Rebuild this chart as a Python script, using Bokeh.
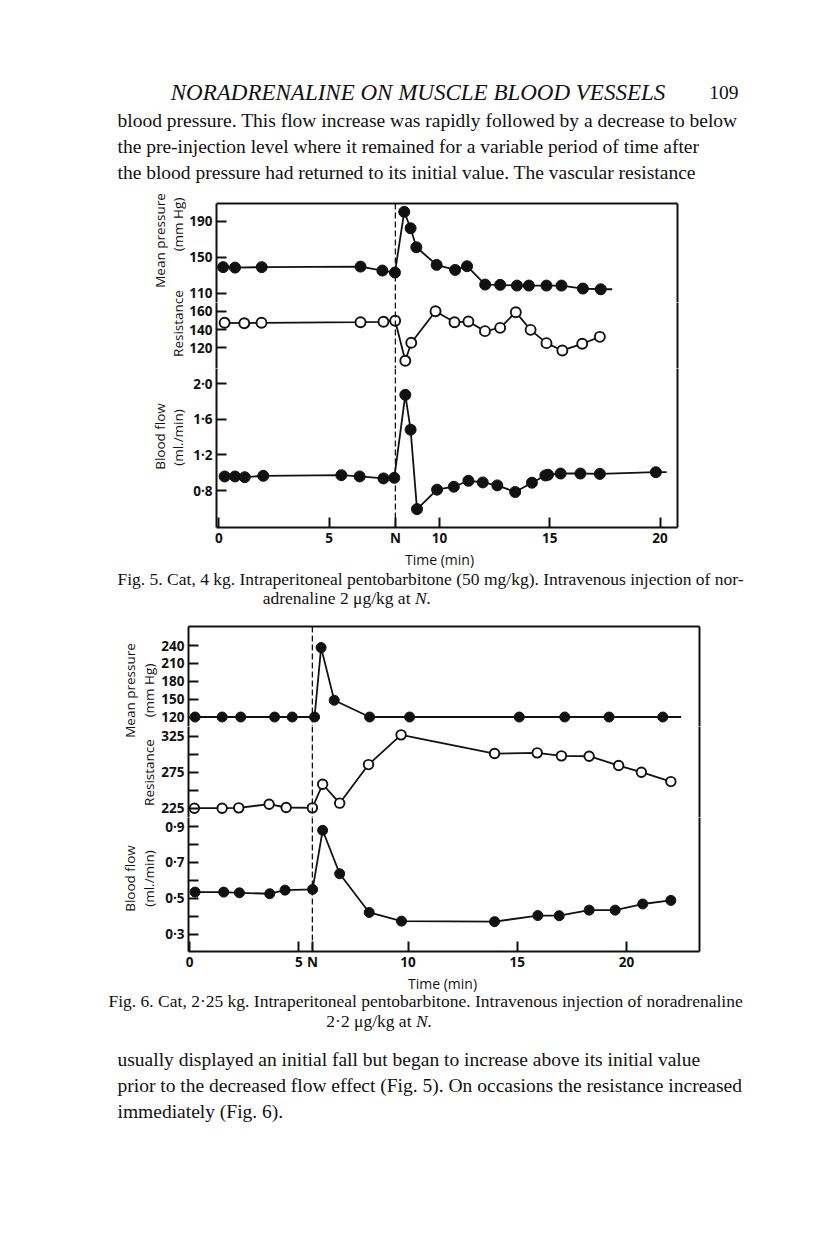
import math
from bokeh.plotting import figure
from bokeh.layouts import column, row
from bokeh.models import Range1d, LinearAxis, FixedTicker, CustomJSTickFormatter, Span
from bokeh.embed import file_html
from bokeh.resources import INLINE
from bokeh.core.properties import value

# ---------------- data: Fig. 5 ----------------
fig5_injection_min = 8.0
fig5_time_ticks = [0, 5, 10, 15, 20]
fig5_pressure_ticks = [110, 150, 190]
fig5_resistance_ticks = [120, 140, 160]
fig5_flow_ticks = [0.8, 1.2, 1.6, 2.0]

fig5_pressure_time = [0.19, 0.73, 1.94, 6.42, 7.41, 7.98, 8.40, 8.69, 8.95, 9.87, 10.71,
                      11.25, 12.07, 12.75, 13.51, 14.05, 14.85, 15.53, 16.50, 17.31]
fig5_pressure = [139, 138.5, 139, 139.6, 135.2, 133, 200.4, 182.2, 161.1, 141.5, 135.9,
                 140, 119.6, 119.3, 118.5, 118.5, 118.5, 118.5, 115.2, 114.4]
fig5_pressure_trace_end = 17.83

fig5_resistance_time = [0.26, 1.15, 1.93, 6.42, 7.46, 7.99, 8.45, 8.72, 9.82, 10.68, 11.31,
                        12.06, 12.75, 13.46, 14.13, 14.85, 15.57, 16.47, 17.27]
fig5_resistance = [147.3, 146.9, 147.3, 148, 148.4, 149.5, 105.8, 125.5, 160, 148, 148.7,
                   138.2, 141.8, 158.9, 139.6, 125.1, 117.1, 124.4, 132]

fig5_flow_time = [0.26, 0.73, 1.17, 2.01, 5.55, 6.38, 7.46, 7.95, 8.45, 8.69, 8.98, 9.89,
                  10.65, 11.31, 11.96, 12.62, 13.43, 14.19, 14.80, 14.92, 15.49, 16.39, 17.27, 19.81]
fig5_flow = [0.959, 0.959, 0.951, 0.966, 0.973, 0.959, 0.937, 0.944, 1.874, 1.483, 0.593, 0.811,
             0.844, 0.911, 0.892, 0.859, 0.785, 0.889, 0.970, 0.978, 0.992, 0.992, 0.988, 1.007]
fig5_flow_trace_end = 20.3

# axis limits (what the frame shows)
fig5_x_limits = (-0.11, 20.79)
fig5_pressure_limits = (99.7, 209.7)
fig5_resistance_limits = (97.4, 169.5)
fig5_flow_limits = (0.387, 2.169)

# ---------------- data: Fig. 6 ----------------
fig6_injection_min = 5.62
fig6_time_ticks = [0, 5, 10, 15, 20]
fig6_pressure_ticks = [120, 150, 180, 210, 240]
fig6_resistance_ticks = [225, 275, 325]
fig6_resistance_minor = [250, 300]
fig6_flow_ticks = [0.3, 0.5, 0.7, 0.9]
fig6_flow_minor = [0.4, 0.6, 0.8]

fig6_pressure_time = [0.25, 1.49, 2.34, 3.89, 4.70, 5.72, 6.02, 6.62, 8.24, 10.07, 15.09,
                      17.17, 19.20, 21.66]
fig6_pressure = [120, 120, 120, 120, 120, 120, 236.5, 148.1, 120, 120, 120, 120, 120, 120]
fig6_pressure_trace_end = 22.5

fig6_resistance_time = [0.22, 1.49, 2.25, 3.64, 4.42, 5.62, 6.09, 6.87, 8.19, 9.68, 13.96,
                        15.91, 17.02, 18.29, 19.64, 20.68, 22.03]
fig6_resistance = [225, 225, 225.5, 230.6, 226, 225.5, 258.3, 232, 285.6, 326.9, 300.9,
                   301.9, 297.7, 297.2, 284.3, 275, 262]

fig6_flow_time = [0.25, 1.56, 2.28, 3.67, 4.37, 5.63, 6.09, 6.87, 8.22, 9.70, 13.96,
                  15.94, 16.92, 18.29, 19.48, 20.74, 22.03]
fig6_flow = [0.535, 0.535, 0.531, 0.526, 0.546, 0.550, 0.878, 0.637, 0.422, 0.374, 0.371,
             0.405, 0.404, 0.435, 0.435, 0.469, 0.489]

fig6_x_limits = (-0.05, 23.34)
fig6_pressure_limits = (104.1, 271.9)
fig6_resistance_limits = (212.1, 338.5)
fig6_flow_limits = (0.2055, 0.949)

# ---------------- texts ----------------
running_head = "NORADRENALINE ON MUSCLE BLOOD VESSELS"
page_number = "109"
para1 = ["blood pressure. This flow increase was rapidly followed by a decrease to below",
         "the pre-injection level where it remained for a variable period of time after",
         "the blood pressure had returned to its initial value. The vascular resistance"]
cap5_line1 = "Fig. 5.  Cat, 4 kg.  Intraperitoneal pentobarbitone (50 mg/kg).  Intravenous injection of nor-"
cap5_line2 = "adrenaline 2 \u03bcg/kg at"
cap6_line1 = "Fig. 6.  Cat, 2\u00b725 kg.  Intraperitoneal pentobarbitone.  Intravenous injection of noradrenaline"
cap6_line2 = "2\u00b72 \u03bcg/kg at"
para2 = ["usually displayed an initial fall but began to increase above its initial value",
         "prior to the decreased flow effect (Fig. 5).  On occasions the resistance increased",
         "immediately (Fig. 6)."]
time_label = "Time (min)"
injection_label = "N"

# ---------------- styling ----------------
INK = "#111111"
SERIF = "Liberation Serif"
SANS = "Open Sans"
LW = 2
W = 808
BODY = "19.5px"
CAP = "17.5px"
AXT = "13.5px"


def page_fig(x0, y0, x1, y1):
    p = figure(width=x1 - x0, height=y1 - y0, x_range=Range1d(x0, x1), y_range=Range1d(y1, y0),
               x_axis_type=None, y_axis_type=None, output_backend="svg", toolbar_location=None,
               min_border=0, title=None)
    p.outline_line_color = None
    return p


def put(p, x, y, s, size, font=SERIF, style="normal", align="left", angle=0.0, baseline="middle"):
    p.text(x=[x], y=[y], text=[s], text_font=value(font), text_font_size=size,
           text_font_style=style, text_align=align, text_baseline=baseline,
           text_color=INK, angle=angle)


def panel(xlim, ylim, width, height, left, right, top, bottom):
    p = figure(width=width, height=height, x_range=Range1d(*xlim), y_range=Range1d(*ylim),
               x_axis_type=None, y_axis_type=None, output_backend="svg", toolbar_location=None,
               min_border_left=left, min_border_right=right, min_border_top=top,
               min_border_bottom=bottom, title=None)
    p.outline_line_color = None
    return p


def frame_line(p, side):
    ax = LinearAxis(ticker=FixedTicker(ticks=[]), axis_line_width=LW, axis_line_color=INK,
                    major_tick_in=0, major_tick_out=0, minor_tick_in=0, minor_tick_out=0,
                    major_label_standoff=0, major_label_text_font_size="0px")
    p.add_layout(ax, side)


def value_axis(p, side, ticks, minor=None, decimal=False, standoff=4):
    ax = LinearAxis(ticker=FixedTicker(ticks=ticks, minor_ticks=minor or []),
                    axis_line_width=LW, axis_line_color=INK,
                    major_tick_in=10, major_tick_out=0, major_tick_line_width=LW,
                    major_tick_line_color=INK,
                    minor_tick_in=10 if minor else 0, minor_tick_out=0,
                    minor_tick_line_width=LW, minor_tick_line_color=INK,
                    major_label_standoff=standoff, major_label_text_font=SANS,
                    major_label_text_font_size="13.5px", major_label_text_font_style="bold",
                    major_label_text_color=INK)
    if decimal:
        ax.formatter = CustomJSTickFormatter(code="return tick.toFixed(1).replace('.', '\u00b7');")
    p.add_layout(ax, side)
    return ax


def time_axis(p, ticks, injection):
    ax = value_axis(p, "below", sorted(ticks + [injection]), standoff=1)
    ax.major_label_overrides = {injection: injection_label}
    return ax


def series(p, t, v, end, filled, size):
    lx = list(t) + ([end] if end is not None else [])
    ly = list(v) + ([v[-1]] if end is not None else [])
    p.line(lx, ly, line_color=INK, line_width=1.8)
    if filled:
        p.scatter(t, v, marker="circle", size=size, fill_color=INK, line_color=INK, line_width=1)
    else:
        p.scatter(t, v, marker="circle", size=size, fill_color="white", line_color=INK, line_width=1.9)


def side_label(p, x, y, s):
    put(p, x, y, s, AXT, font=SANS, align="center", angle=math.pi / 2)


# ---------------- top text ----------------
top = page_fig(0, 0, W, 186)
put(top, 417.5, 92, running_head, "23px", style="italic", align="center")
put(top, 738, 92, page_number, BODY, align="right")
for i, s in enumerate(para1):
    put(top, 117, 120 + 25.9 * i, s, BODY)

# ---------------- Fig. 5 ----------------
lab5 = page_fig(0, 186, 186, 549)
side_label(lab5, 159.5, 240, "Mean pressure")
side_label(lab5, 177.5, 224, "(mm Hg)")
side_label(lab5, 177.5, 323, "Resistance")
side_label(lab5, 159.5, 436, "Blood flow")
side_label(lab5, 177.5, 437, "(ml./min)")

f5w, f5l, f5r = W - 186, 30, 131
f5a = panel(fig5_x_limits, fig5_pressure_limits, f5w, 116, f5l, f5r, 17, 0)
f5b = panel(fig5_x_limits, fig5_resistance_limits, f5w, 66, f5l, f5r, 0, 0)
f5c = panel(fig5_x_limits, fig5_flow_limits, f5w, 181, f5l, f5r, 0, 20)

value_axis(f5a, "left", fig5_pressure_ticks)
value_axis(f5b, "left", fig5_resistance_ticks)
value_axis(f5c, "left", fig5_flow_ticks, decimal=True)
time_axis(f5c, fig5_time_ticks, fig5_injection_min)
frame_line(f5a, "above")
for p in (f5a, f5b, f5c):
    frame_line(p, "right")
    p.add_layout(Span(location=fig5_injection_min, dimension="height", line_color=INK,
                      line_width=1.3, line_dash="6 3"))

series(f5a, fig5_pressure_time, fig5_pressure, fig5_pressure_trace_end, True, 11)
series(f5b, fig5_resistance_time, fig5_resistance, None, False, 10)
series(f5c, fig5_flow_time, fig5_flow, fig5_flow_trace_end, True, 11)

fig5 = row(lab5, column(f5a, f5b, f5c, spacing=0), spacing=0)

# ---------------- caption 5 ----------------
mid = page_fig(0, 549, W, 612)
put(mid, 439, 549.5, time_label, "14px", font=SANS, align="center", baseline="top")
put(mid, 117, 578, cap5_line1, CAP)
put(mid, 410, 597, cap5_line2, CAP, align="right")
put(mid, 414.5, 597, "N.", CAP, style="italic")

# ---------------- Fig. 6 ----------------
lab6 = page_fig(0, 612, 158, 973)
side_label(lab6, 129, 690, "Mean pressure")
side_label(lab6, 148, 690, "(mm Hg)")
side_label(lab6, 148, 772, "Resistance")
side_label(lab6, 129, 878, "Blood flow")
side_label(lab6, 148, 878, "(ml./min)")

f6w, f6l, f6r = W - 158, 29, 109
f6a = panel(fig6_x_limits, fig6_pressure_limits, f6w, 114, f6l, f6r, 14, 0)
f6b = panel(fig6_x_limits, fig6_resistance_limits, f6w, 91, f6l, f6r, 0, 0)
f6c = panel(fig6_x_limits, fig6_flow_limits, f6w, 156, f6l, f6r, 0, 20)

value_axis(f6a, "left", fig6_pressure_ticks)
value_axis(f6b, "left", fig6_resistance_ticks, minor=fig6_resistance_minor)
value_axis(f6c, "left", fig6_flow_ticks, minor=fig6_flow_minor, decimal=True)
time_axis(f6c, fig6_time_ticks, fig6_injection_min)
frame_line(f6a, "above")
for p in (f6a, f6b, f6c):
    frame_line(p, "right")
    p.add_layout(Span(location=fig6_injection_min, dimension="height", line_color=INK,
                      line_width=1.3, line_dash="6 3"))

series(f6a, fig6_pressure_time, fig6_pressure, fig6_pressure_trace_end, True, 10)
series(f6b, fig6_resistance_time, fig6_resistance, None, False, 9.5)
series(f6c, fig6_flow_time, fig6_flow, None, True, 10)

fig6 = row(lab6, column(f6a, f6b, f6c, spacing=0), spacing=0)

# ---------------- bottom text ----------------
bot = page_fig(0, 973, W, 1241)
put(bot, 442, 973.5, time_label, "14px", font=SANS, align="center", baseline="top")
put(bot, 108, 1000, cap6_line1, CAP)
put(bot, 411, 1020, cap6_line2, CAP, align="right")
put(bot, 415.5, 1020, "N.", CAP, style="italic")
for i, s in enumerate(para2):
    put(bot, 117, 1059 + 25.9 * i, s, BODY)

page = column(top, fig5, mid, fig6, bot, spacing=0)
open("out.html", "w").write(file_html(page, INLINE))
